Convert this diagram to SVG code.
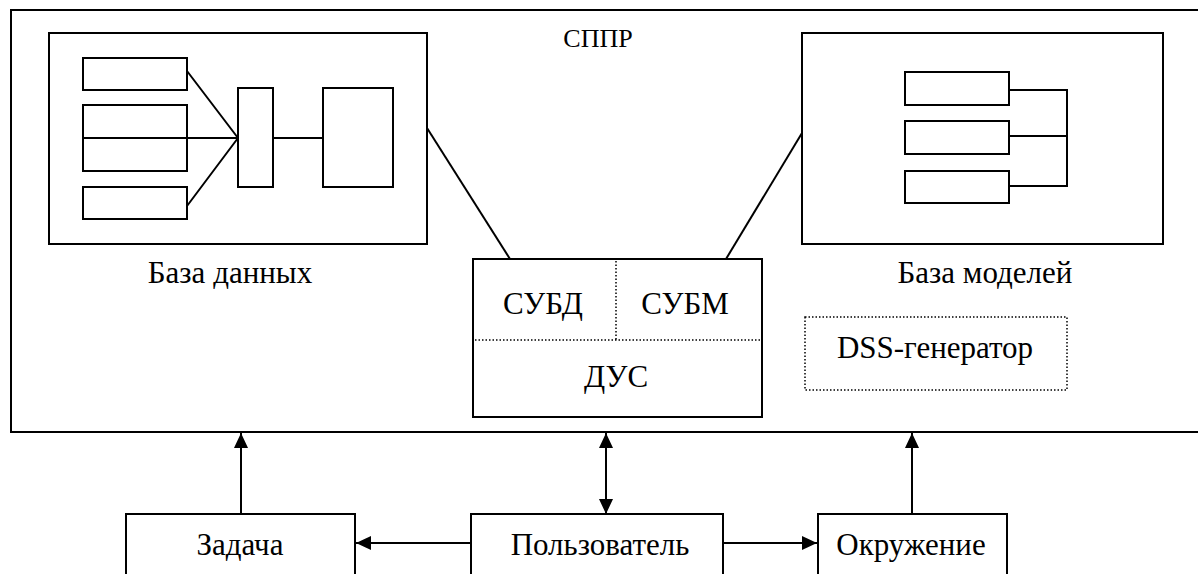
<svg xmlns="http://www.w3.org/2000/svg" width="1198" height="574" viewBox="0 0 1198 574">
<defs>
<style>
.box{fill:#fff;stroke:#000;stroke-width:2}
.sm{fill:none;stroke:#000;stroke-width:2}
.ln{fill:none;stroke:#000;stroke-width:2}
.dot{fill:none;stroke:#000;stroke-width:1.5;stroke-dasharray:1.5 2}
.t{font-family:'Liberation Serif','Times New Roman',serif;font-size:31px;fill:#000;text-anchor:middle}
.ttl{font-family:'Liberation Serif','Times New Roman',serif;font-size:26px;fill:#000;text-anchor:middle}
</style>
<marker id="ah" viewBox="0 0 15 14" refX="15" refY="7" markerWidth="15" markerHeight="14" markerUnits="userSpaceOnUse" orient="auto-start-reverse">
<path d="M0,0 L15,7 L0,14 Z" fill="#000"/>
</marker>
</defs>
<rect width="1198" height="574" fill="#fff"/>
<g id="sppr">
<path class="ln" d="M1200,10 H11 V432 H1200"/>
<text class="ttl" x="598" y="47">СППР</text>
</g>
<g id="db">
<rect class="box" x="49" y="33" width="378" height="211"/>
<rect class="sm" x="83" y="58" width="104" height="32"/>
<rect class="sm" x="83" y="105" width="104" height="66"/>
<rect class="sm" x="83" y="187" width="104" height="32"/>
<rect class="sm" x="238" y="88" width="35" height="99"/>
<rect class="sm" x="323" y="88" width="70" height="99"/>
<path class="ln" d="M187,71 L238,138 M83,138 H238 M187,206 L238,138 M273,138 H323"/>
<text class="t" x="230" y="283">База данных</text>
</g>
<g id="mb">
<rect class="box" x="802" y="33" width="361" height="211"/>
<rect class="sm" x="905" y="72" width="104" height="33"/>
<rect class="sm" x="905" y="121" width="104" height="33"/>
<rect class="sm" x="905" y="171" width="104" height="32"/>
<path class="ln" d="M1009,90 H1067 V186 H1009 M1009,136 H1067"/>
<text class="t" x="985" y="283">База моделей</text>
</g>
<g id="dus">
<rect class="box" x="473" y="259" width="289" height="158"/>
<path class="dot" d="M616,261 V340 M475,340 H760"/>
<text class="t" x="543" y="314">СУБД</text>
<text class="t" x="685" y="314">СУБМ</text>
<text class="t" x="616" y="387">ДУС</text>
</g>
<g id="dss">
<rect class="dot" x="805" y="317" width="262" height="73"/>
<text class="t" x="935" y="358">DSS-генератор</text>
</g>
<g id="zadacha">
<path class="box" d="M126,576 V514 H355 V576"/>
<text class="t" x="240" y="555">Задача</text>
</g>
<g id="user">
<path class="box" d="M471,576 V514 H723 V576"/>
<text class="t" x="600" y="555">Пользователь</text>
</g>
<g id="env">
<path class="box" d="M818,576 V514 H1007 V576"/>
<text class="t" x="911" y="555">Окружение</text>
</g>
<g id="connectors">
<path class="ln" d="M427,128 L510,259"/>
<path class="ln" d="M802,133 L726,259"/>
<path class="ln" d="M241,514 V433" marker-end="url(#ah)"/>
<path class="ln" d="M606,514 V433" marker-start="url(#ah)" marker-end="url(#ah)"/>
<path class="ln" d="M912,514 V433" marker-end="url(#ah)"/>
<path class="ln" d="M471,543 H356" marker-end="url(#ah)"/>
<path class="ln" d="M723,543 H817" marker-end="url(#ah)"/>
</g>
</svg>
